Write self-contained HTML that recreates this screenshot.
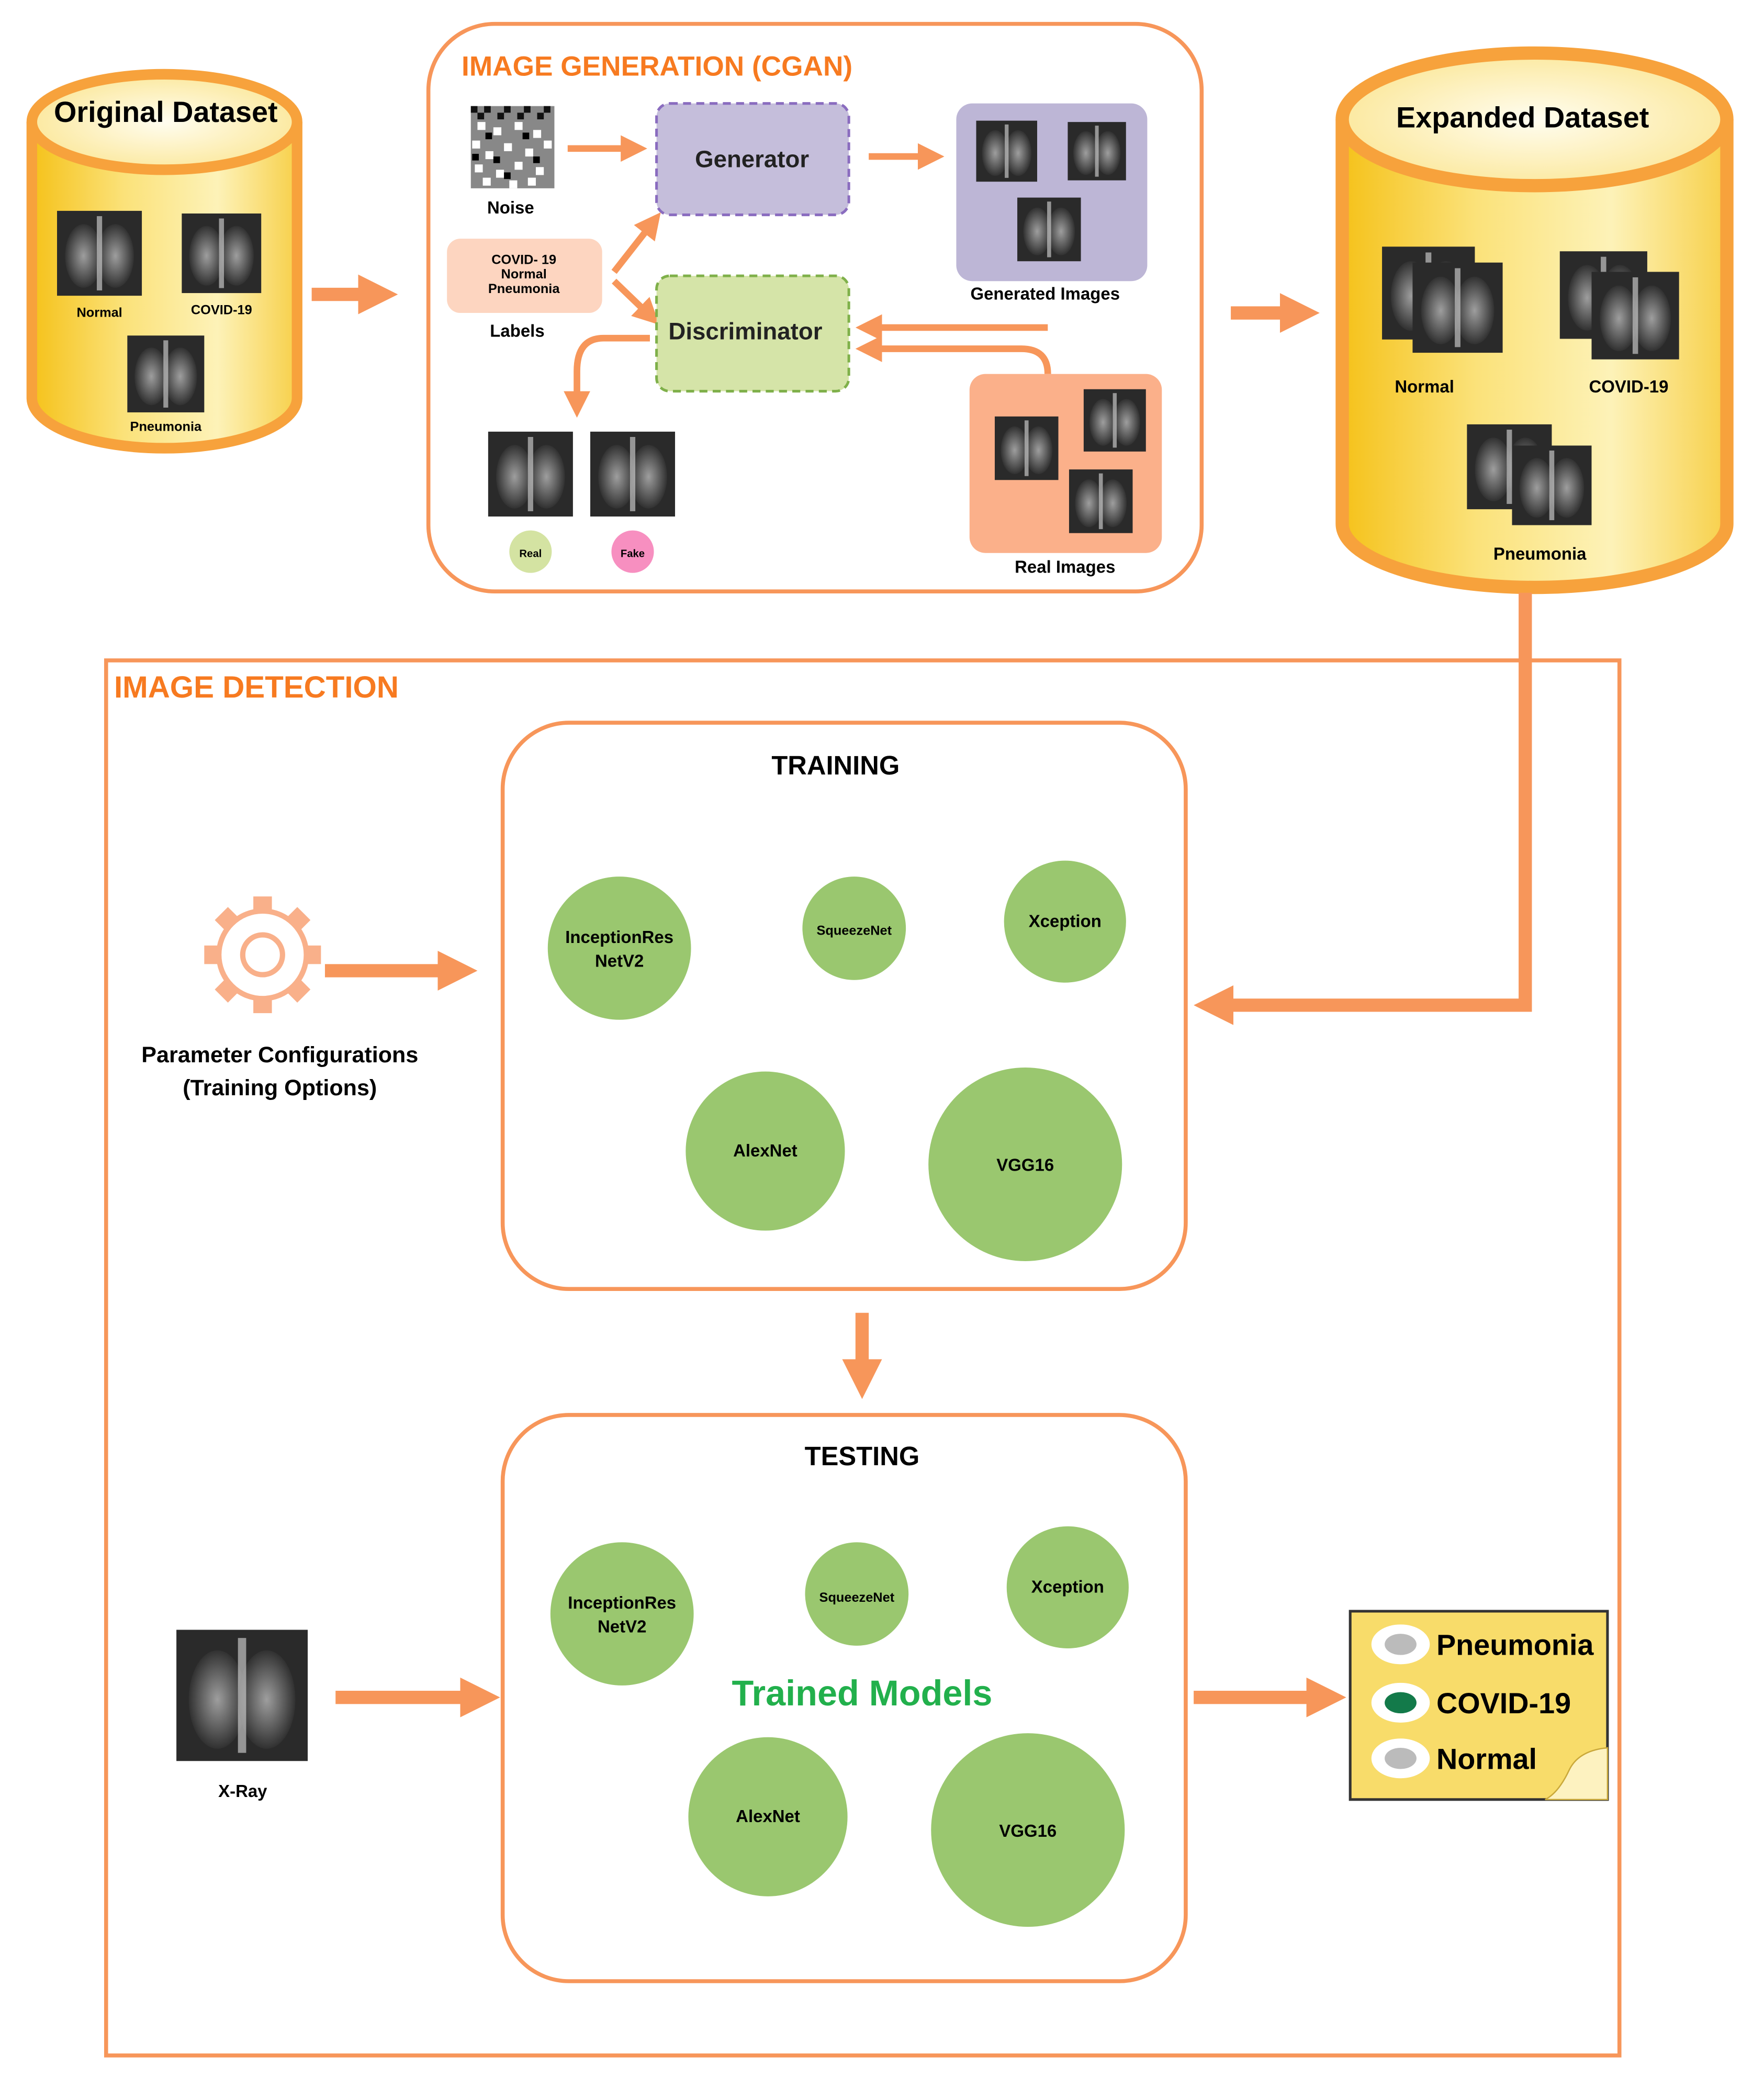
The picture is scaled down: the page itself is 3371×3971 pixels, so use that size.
<!DOCTYPE html>
<html><head><meta charset="utf-8"><style>
html,body{margin:0;padding:0;background:#fff}
svg{display:block}
text{font-family:"Liberation Sans",sans-serif;font-weight:bold}
</style></head><body>
<svg width="3371" height="3971" viewBox="0 0 1330 1567" preserveAspectRatio="none" xmlns="http://www.w3.org/2000/svg">
<defs>
<linearGradient id="cyl" x1="0" x2="1" y1="0" y2="0">
<stop offset="0" stop-color="#f5c21a"/><stop offset="0.35" stop-color="#fbe27a"/><stop offset="0.7" stop-color="#fdf2b8"/><stop offset="1" stop-color="#f7d04a"/></linearGradient>
<radialGradient id="top" cx="0.5" cy="0.5" r="0.6"><stop offset="0" stop-color="#fffdf0"/><stop offset="1" stop-color="#fbe590"/></radialGradient>
<radialGradient id="lung" cx="0.5" cy="0.5" r="0.5"><stop offset="0" stop-color="#bbb"/><stop offset="1" stop-color="#333"/></radialGradient>
<pattern id="nz" width="6" height="6" patternUnits="userSpaceOnUse"><rect width="6" height="6" fill="#fff"/></pattern>
<symbol id="xr" viewBox="0 0 64 64">
<rect width="64" height="64" fill="#2a2a2a"/>
<ellipse cx="20" cy="34" rx="14" ry="24" fill="url(#lung)" opacity="0.8"/>
<ellipse cx="44" cy="34" rx="14" ry="24" fill="url(#lung)" opacity="0.8"/>
<rect x="30" y="4" width="4" height="56" fill="#ddd" opacity="0.6"/>
</symbol>
<marker id="ah" viewBox="0 0 10 10" refX="5" refY="5" markerWidth="3" markerHeight="3" orient="auto"><path d="M0,0L10,5L0,10z" fill="#f7965a"/></marker>
<marker id="ahs" viewBox="0 0 10 10" refX="5" refY="5" markerWidth="4" markerHeight="4" orient="auto"><path d="M0,0L10,5L0,10z" fill="#f7965a"/></marker>
</defs>

<path d="M24,92 L24,300 A100,38 0 0 0 224,300 L224,92" fill="url(#cyl)" stroke="#f7a23c" stroke-width="8"/>
<ellipse cx="124" cy="92" rx="100" ry="36" fill="url(#top)" stroke="#f7a23c" stroke-width="8"/>
<text x="125" y="92" font-size="22" text-anchor="middle">Original Dataset</text>
<use href="#xr" x="43" y="158" width="64" height="66"/>
<use href="#xr" x="137" y="160" width="60" height="62"/>
<use href="#xr" x="93" y="253" width="64" height="58"/>
<text x="75" y="239" font-size="10" text-anchor="middle">Normal</text>
<text x="167" y="237" font-size="10" text-anchor="middle">COVID-19</text>
<text x="125" y="325" font-size="10" text-anchor="middle">Pneumonia</text>

<line x1="235" y1="222" x2="285" y2="222" stroke="#f7965a" stroke-width="10" marker-end="url(#ah)"/>

<rect x="323" y="18" width="583" height="428" rx="50" fill="#fff" stroke="#f7965a" stroke-width="3"/>
<text x="348" y="57" font-size="21" fill="#f77a20">IMAGE GENERATION (CGAN)</text>
<rect x="355" y="80" width="63" height="62" fill="#888"/>
<g fill="#111">
<rect x="355" y="80" width="5" height="5"/><rect x="365" y="80" width="5" height="5"/><rect x="380" y="80" width="5" height="5"/><rect x="395" y="80" width="5" height="5"/><rect x="410" y="80" width="5" height="5"/>
<rect x="360" y="85" width="5" height="5"/><rect x="375" y="85" width="5" height="5"/><rect x="390" y="85" width="5" height="5"/><rect x="405" y="85" width="5" height="5"/>
</g>
<g fill="#fff">
<rect x="360" y="92" width="6" height="6"/><rect x="372" y="96" width="6" height="6"/><rect x="388" y="92" width="6" height="6"/><rect x="402" y="98" width="6" height="6"/>
<rect x="356" y="106" width="6" height="6"/><rect x="366" y="114" width="6" height="6"/><rect x="380" y="108" width="6" height="6"/><rect x="396" y="112" width="6" height="6"/><rect x="410" y="106" width="6" height="6"/>
<rect x="358" y="124" width="6" height="6"/><rect x="374" y="128" width="6" height="6"/><rect x="388" y="122" width="6" height="6"/><rect x="404" y="126" width="6" height="6"/>
<rect x="364" y="134" width="6" height="6"/><rect x="384" y="136" width="6" height="6"/><rect x="398" y="134" width="6" height="6"/>
</g>
<g fill="#000">
<rect x="366" y="100" width="5" height="5"/><rect x="394" y="100" width="5" height="5"/><rect x="372" y="118" width="5" height="5"/><rect x="402" y="118" width="5" height="5"/><rect x="380" y="130" width="5" height="5"/><rect x="356" y="116" width="5" height="5"/>
</g>
<text x="385" y="161" font-size="13" text-anchor="middle">Noise</text>
<line x1="428" y1="112" x2="478" y2="112" stroke="#f7965a" stroke-width="5" marker-end="url(#ahs)"/>
<rect x="495" y="78" width="145" height="84" rx="10" fill="#c5bedb" stroke="#8a6cbf" stroke-width="2" stroke-dasharray="6,4"/>
<text x="567" y="126" font-size="18" text-anchor="middle" fill="#222">Generator</text>
<line x1="655" y1="118" x2="702" y2="118" stroke="#f7965a" stroke-width="5" marker-end="url(#ahs)"/>
<rect x="721" y="78" width="144" height="134" rx="12" fill="#bdb6d6"/>
<use href="#xr" x="736" y="90" width="46" height="48"/>
<use href="#xr" x="805" y="90" width="44" height="48"/>
<use href="#xr" x="767" y="148" width="48" height="50"/>
<text x="788" y="226" font-size="13" text-anchor="middle">Generated Images</text>
<rect x="337" y="180" width="117" height="56" rx="10" fill="#fdd5c0"/>
<text x="395" y="199" font-size="10" text-anchor="middle">COVID- 19</text>
<text x="395" y="210" font-size="10" text-anchor="middle">Normal</text>
<text x="395" y="221" font-size="10" text-anchor="middle">Pneumonia</text>
<text x="390" y="254" font-size="13" text-anchor="middle">Labels</text>
<line x1="463" y1="205" x2="492" y2="168" stroke="#f7965a" stroke-width="5" marker-end="url(#ahs)"/>
<line x1="463" y1="212" x2="490" y2="238" stroke="#f7965a" stroke-width="5" marker-end="url(#ahs)"/>
<rect x="495" y="208" width="145" height="87" rx="10" fill="#d5e4a8" stroke="#7fb04a" stroke-width="2" stroke-dasharray="6,4"/>
<text x="562" y="256" font-size="18" text-anchor="middle" fill="#222">Discriminator</text>
<line x1="790" y1="247" x2="655" y2="247" stroke="#f7965a" stroke-width="5" marker-end="url(#ahs)"/>
<path d="M790,282 Q790,263 770,263 L655,263" fill="none" stroke="#f7965a" stroke-width="5" marker-end="url(#ahs)"/>
<rect x="731" y="282" width="145" height="135" rx="12" fill="#fbb08a"/>
<use href="#xr" x="750" y="314" width="48" height="48"/>
<use href="#xr" x="817" y="292" width="47" height="50"/>
<use href="#xr" x="806" y="353" width="48" height="50"/>
<text x="803" y="432" font-size="13" text-anchor="middle">Real Images</text>
<path d="M490,255 L455,255 Q435,255 435,280 L435,305" fill="none" stroke="#f7965a" stroke-width="5" marker-end="url(#ahs)"/>
<use href="#xr" x="368" y="325" width="64" height="65"/>
<use href="#xr" x="445" y="325" width="64" height="65"/>
<circle cx="400" cy="416" r="16" fill="#d4e3a2"/><text x="400" y="420" font-size="8" text-anchor="middle">Real</text>
<circle cx="477" cy="416" r="16" fill="#f78fc0"/><text x="477" y="420" font-size="8" text-anchor="middle">Fake</text>

<line x1="928" y1="236" x2="980" y2="236" stroke="#f7965a" stroke-width="10" marker-end="url(#ah)"/>

<path d="M1012,90 L1012,395 A145,48 0 0 0 1302,395 L1302,90" fill="url(#cyl)" stroke="#f7a23c" stroke-width="10"/>
<ellipse cx="1157" cy="90" rx="145" ry="50" fill="url(#top)" stroke="#f7a23c" stroke-width="10"/>
<text x="1148" y="96" font-size="22" text-anchor="middle">Expanded Dataset</text>
<use href="#xr" x="1042" y="182" width="70" height="78"/>
<use href="#xr" x="1065" y="193" width="68" height="78"/>
<use href="#xr" x="1176" y="185" width="66" height="75"/>
<use href="#xr" x="1200" y="203" width="66" height="70"/>
<use href="#xr" x="1106" y="317" width="64" height="70"/>
<use href="#xr" x="1140" y="334" width="60" height="64"/>
<text x="1074" y="296" font-size="13" text-anchor="middle">Normal</text>
<text x="1228" y="296" font-size="13" text-anchor="middle">COVID-19</text>
<text x="1161" y="422" font-size="13" text-anchor="middle">Pneumonia</text>

<rect x="80" y="498" width="1141" height="1052" fill="none" stroke="#f7965a" stroke-width="3"/>
<text x="86" y="526" font-size="23" fill="#f77a20">IMAGE DETECTION</text>
<path d="M1150,447 L1150,758 L915,758" fill="none" stroke="#f7965a" stroke-width="10" marker-end="url(#ah)"/>

<rect x="379" y="545" width="515" height="427" rx="50" fill="#fff" stroke="#f7965a" stroke-width="3"/>
<text x="630" y="584" font-size="20" text-anchor="middle">TRAINING</text>
<g fill="#9ac76f">
<circle cx="467" cy="715" r="54"/><circle cx="644" cy="700" r="39"/><circle cx="803" cy="695" r="46"/><circle cx="577" cy="868" r="60"/><circle cx="773" cy="878" r="73"/>
<circle cx="469" cy="1217" r="54"/><circle cx="646" cy="1202" r="39"/><circle cx="805" cy="1197" r="46"/><circle cx="579" cy="1370" r="60"/><circle cx="775" cy="1380" r="73"/>
</g>
<g font-size="13" text-anchor="middle">
<text x="467" y="711">InceptionRes</text><text x="467" y="729">NetV2</text>
<text x="644" y="705" font-size="10">SqueezeNet</text>
<text x="803" y="699">Xception</text>
<text x="577" y="872">AlexNet</text>
<text x="773" y="883">VGG16</text>
<text x="469" y="1213">InceptionRes</text><text x="469" y="1231">NetV2</text>
<text x="646" y="1208" font-size="10">SqueezeNet</text>
<text x="805" y="1201">Xception</text>
<text x="579" y="1374">AlexNet</text>
<text x="775" y="1385">VGG16</text>
</g>
<g transform="translate(198,720)">
<g fill="#f9b08a">
<rect x="-7" y="-44" width="14" height="14"/>
<rect x="-7" y="-44" width="14" height="14" transform="rotate(45)"/>
<rect x="-7" y="-44" width="14" height="14" transform="rotate(90)"/>
<rect x="-7" y="-44" width="14" height="14" transform="rotate(135)"/>
<rect x="-7" y="-44" width="14" height="14" transform="rotate(180)"/>
<rect x="-7" y="-44" width="14" height="14" transform="rotate(225)"/>
<rect x="-7" y="-44" width="14" height="14" transform="rotate(270)"/>
<rect x="-7" y="-44" width="14" height="14" transform="rotate(315)"/>
</g>
<circle r="33" fill="#fff" stroke="#f9b08a" stroke-width="4"/>
<circle r="15" fill="#fff" stroke="#f9b08a" stroke-width="4"/>
</g>
<line x1="245" y1="732" x2="345" y2="732" stroke="#f7965a" stroke-width="10" marker-end="url(#ah)"/>
<text x="211" y="801" font-size="17" text-anchor="middle">Parameter Configurations</text>
<text x="211" y="826" font-size="17" text-anchor="middle">(Training Options)</text>

<line x1="650" y1="990" x2="650" y2="1040" stroke="#f7965a" stroke-width="10" marker-end="url(#ah)"/>

<rect x="379" y="1067" width="515" height="427" rx="50" fill="none" stroke="#f7965a" stroke-width="3"/>
<text x="650" y="1105" font-size="20" text-anchor="middle">TESTING</text>
<text x="650" y="1286" font-size="27" text-anchor="middle" fill="#22b04c">Trained Models</text>

<use href="#xr" x="132" y="1229" width="101" height="99"/>
<text x="183" y="1355" font-size="13" text-anchor="middle">X-Ray</text>
<line x1="253" y1="1280" x2="362" y2="1280" stroke="#f7965a" stroke-width="10" marker-end="url(#ah)"/>
<line x1="900" y1="1280" x2="1000" y2="1280" stroke="#f7965a" stroke-width="10" marker-end="url(#ah)"/>

<rect x="1018" y="1215" width="194" height="142" fill="#f8dc6a" stroke="#333" stroke-width="2"/>
<path d="M1165,1357 L1212,1357 L1212,1318 Q1190,1320 1183,1335 Q1175,1352 1165,1357z" fill="#fdf2c0" stroke="#c9a83a"/>
<ellipse cx="1056" cy="1240" rx="22" ry="15" fill="#fff"/><ellipse cx="1056" cy="1240" rx="12" ry="8" fill="#bbb"/>
<ellipse cx="1056" cy="1284" rx="22" ry="15" fill="#fff"/><ellipse cx="1056" cy="1284" rx="12" ry="8" fill="#137a4a"/>
<ellipse cx="1056" cy="1326" rx="22" ry="15" fill="#fff"/><ellipse cx="1056" cy="1326" rx="12" ry="8" fill="#bbb"/>
<text x="1083" y="1248" font-size="22">Pneumonia</text>
<text x="1083" y="1292" font-size="22">COVID-19</text>
<text x="1083" y="1334" font-size="22">Normal</text>
</svg>
</body></html>
